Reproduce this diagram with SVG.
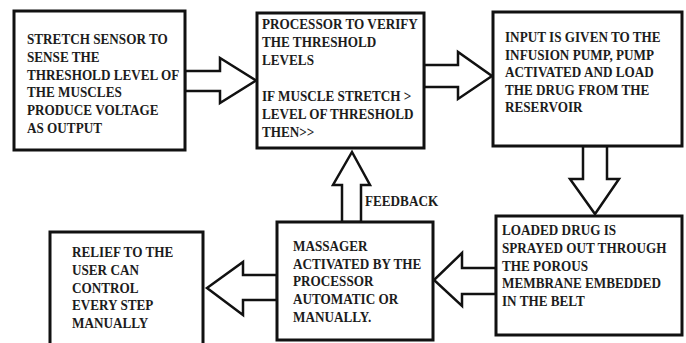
<svg xmlns="http://www.w3.org/2000/svg" width="686" height="343" viewBox="0 0 686 343">
<style>
.box{fill:#fff;stroke:#111;stroke-width:3}
.arr{fill:#fff;stroke:#111;stroke-width:2.5;stroke-linejoin:miter}
.t{font-family:"Liberation Serif","Times New Roman",serif;font-weight:bold;font-size:15.5px;fill:#1c1c1c}
</style>
<rect width="686" height="343" fill="#fff"/>
<g id="connectors">
<polygon class="arr" points="185,71 220,71 220,58 256,80.5 220,103 220,91 185,91"/>
<polygon class="arr" points="424,65 458,65 458,52 492,76 458,99 458,87 424,87"/>
<polygon class="arr" points="583,146 583,179 570,179 595,214 619,179 607,179 607,146"/>
<polygon class="arr" points="496,268 462,268 462,253 434,280 462,306 462,294 496,294"/>
<polygon class="arr" points="277,275 243,275 243,262 207,288 243,315 243,300 277,300"/>
<polygon class="arr" points="342,222 342,185 333,185 352,152 370,185 361,185 361,222"/>
<text class="t" transform="translate(365,206) scale(0.85,1)">FEEDBACK</text>
</g>
<g id="n1">
<rect class="box" x="14" y="11" width="171" height="139"/>
<text class="t" transform="translate(27,44) scale(0.85,1)"><tspan x="0">STRETCH SENSOR TO</tspan><tspan x="0" dy="17.8">SENSE THE</tspan><tspan x="0" dy="17.8">THRESHOLD LEVEL OF</tspan><tspan x="0" dy="17.8">THE MUSCLES</tspan><tspan x="0" dy="17.8">PRODUCE VOLTAGE</tspan><tspan x="0" dy="17.8">AS OUTPUT</tspan></text>
</g>
<g id="n2">
<rect class="box" x="257" y="13" width="167" height="135"/>
<text class="t" transform="translate(262,29) scale(0.85,1)"><tspan x="0">PROCESSOR TO VERIFY</tspan><tspan x="0" dy="18">THE THRESHOLD</tspan><tspan x="0" dy="18">LEVELS</tspan><tspan x="0" dy="36">IF MUSCLE STRETCH &gt;</tspan><tspan x="0" dy="18">LEVEL OF THRESHOLD</tspan><tspan x="0" dy="18">THEN&gt;&gt;</tspan></text>
</g>
<g id="n3">
<rect class="box" x="493" y="12" width="189" height="134"/>
<text class="t" transform="translate(505,42) scale(0.85,1)"><tspan x="0">INPUT IS GIVEN TO THE</tspan><tspan x="0" dy="17.6">INFUSION PUMP, PUMP</tspan><tspan x="0" dy="17.6">ACTIVATED AND LOAD</tspan><tspan x="0" dy="17.6">THE DRUG FROM THE</tspan><tspan x="0" dy="17.6">RESERVOIR</tspan></text>
</g>
<g id="n4">
<rect class="box" x="496" y="216" width="186" height="119"/>
<text class="t" transform="translate(502,235) scale(0.85,1)"><tspan x="0">LOADED DRUG IS</tspan><tspan x="0" dy="17.8">SPRAYED OUT THROUGH</tspan><tspan x="0" dy="17.8">THE POROUS</tspan><tspan x="0" dy="17.8">MEMBRANE EMBEDDED</tspan><tspan x="0" dy="17.8">IN THE BELT</tspan></text>
</g>
<g id="n5">
<rect class="box" x="277" y="222" width="156" height="118"/>
<text class="t" transform="translate(293,251) scale(0.85,1)"><tspan x="0">MASSAGER</tspan><tspan x="0" dy="17.7">ACTIVATED BY THE</tspan><tspan x="0" dy="17.7">PROCESSOR</tspan><tspan x="0" dy="17.7">AUTOMATIC OR</tspan><tspan x="0" dy="17.7">MANUALLY.</tspan></text>
</g>
<g id="n6">
<rect class="box" x="50" y="232" width="153" height="118"/>
<text class="t" transform="translate(72,257) scale(0.85,1)"><tspan x="0">RELIEF TO THE</tspan><tspan x="0" dy="17.8">USER CAN</tspan><tspan x="0" dy="17.8">CONTROL</tspan><tspan x="0" dy="17.8">EVERY STEP</tspan><tspan x="0" dy="17.8">MANUALLY</tspan></text>
</g>
</svg>
